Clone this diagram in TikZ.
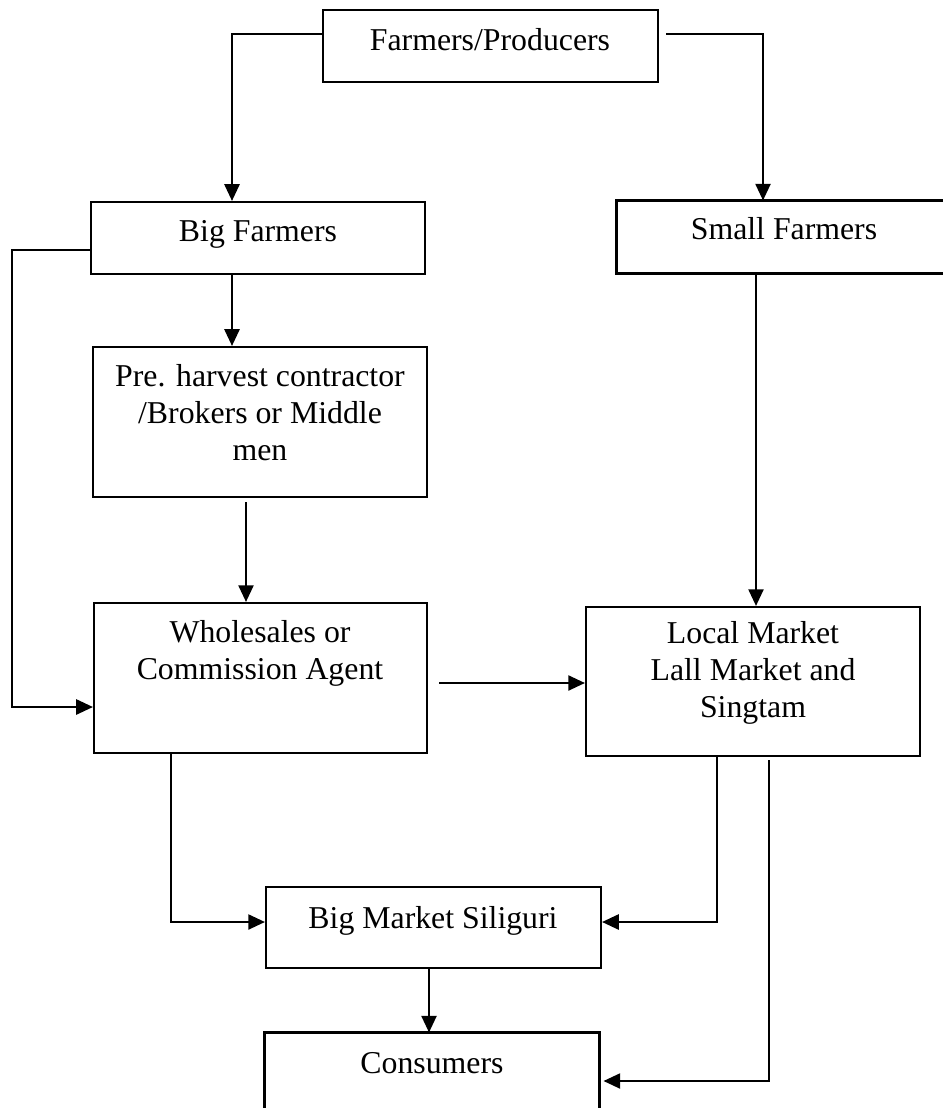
\documentclass[tikz,border=0pt]{standalone}
\usepackage{fontspec}
\setmainfont{Liberation Serif}
\usetikzlibrary{arrows.meta,fit,calc}
\newcommand\boxlines[1]{\begin{tabular}[t]{@{}c@{}}#1\end{tabular}}
\begin{document}
\begin{tikzpicture}[x=0.3774pt,y=-0.3774pt,
  box/.style={draw,line width=0.8pt,inner sep=0pt},
  openbox/.style={inner sep=0pt},
  conn/.style={line width=0.8pt},
  arr/.style={conn,-{Triangle[length=6.3pt,width=5.7pt]}},
  lbl/.style={anchor=base,inner sep=0pt,font=\fontsize{12}{14}\selectfont}]
\useasboundingbox (0,0) rectangle (942,1108);

% boxes
\node[box,fit={(323,10)(658,82)}] (fp) {};
\node[box,fit={(91,202)(425,274)}] (bf) {};
\node[openbox,fit={(617,201)(942,273)}] (sf) {};
\draw[conn] (sf.north east) -| (sf.south west) -- (sf.south east);
\node[box,fit={(93,347)(427,497)}] (pre) {};
\node[box,fit={(94,603)(427,753)}] (ws) {};
\node[box,fit={(586,607)(920,756)}] (lm) {};
\node[box,fit={(266,887)(601,968)}] (bm) {};
\node[openbox,fit={(265,1033)(599,1108)}] (cons) {};
\draw[conn] (cons.south west) |- (cons.north east) -- (cons.south east);

% texts
\node[lbl] (tfp) at (490,51) {Farmers/Producers};
\node[lbl] (tbf) at (258,242) {Big Farmers};
\node[lbl] (tsf) at (784,240) {Small Farmers};
\node[lbl] (tpre) at (260,386) {\boxlines{Pre. harvest contractor\\/Brokers or Middle\\men}};
\node[lbl] (tws) at (260,642) {\boxlines{Wholesales or\\Commission Agent}};
\node[lbl] (tlm) at (753,643) {\boxlines{Local Market\\Lall Market and\\Singtam}};
\node[lbl] (tbm) at (433,928) {Big Market Siliguri};
\node[lbl] (tcons) at (432,1073) {Consumers};

% helper coordinates for free ends
\coordinate (fpR) at ($(fp.east)+(7,0)$);
\coordinate (preS) at ($(pre.south)+(0,4)$);
\coordinate (wsR) at ($(ws.east)+(11,0)$);
\coordinate (lmS) at ($(lm.south)+(0,3)$);
\coordinate (consR) at ($(cons.east)+(4,0)$);

% connectors
\draw[arr] (fp.west |- 0,34) -| (bf.north -| 232,0);
\draw[arr] (fpR |- 0,34) -| (sf.north -| 763,0);
\draw[arr] (bf.west |- 0,250) -- (12,250) |- (ws.west |- 0,707);
\draw[arr] (bf.south -| 232,0) -- (pre.north -| 232,0);
\draw[arr] (preS -| 246,0) -- (ws.north -| 246,0);
\draw[arr] (wsR |- 0,683) -- (lm.west |- 0,683);
\draw[arr] (sf.south -| 756,0) -- (lm.north -| 756,0);
\draw[arr] (ws.south -| 171,0) |- (bm.west |- 0,922);
\draw[arr] (lm.south -| 717,0) |- (bm.east |- 0,922);
\draw[arr] (lmS -| 769,0) |- (consR |- 0,1081);
\draw[arr] (bm.south -| 429,0) -- (cons.north -| 429,0);
\end{tikzpicture}
\end{document}
